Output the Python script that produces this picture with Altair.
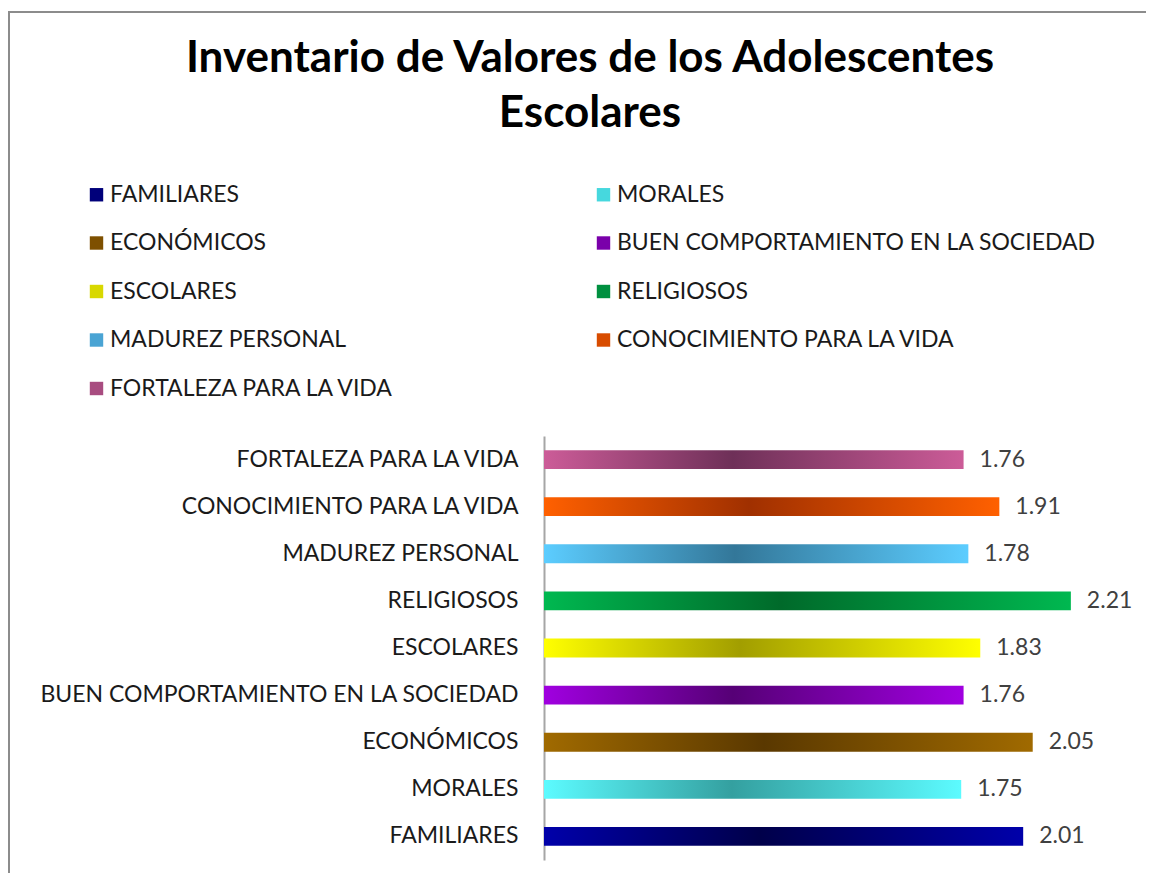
import altair as alt
import pandas as pd

categories = [
    "FAMILIARES",
    "MORALES",
    "ECONÓMICOS",
    "BUEN COMPORTAMIENTO  EN LA SOCIEDAD",
    "ESCOLARES",
    "RELIGIOSOS",
    "MADUREZ PERSONAL",
    "CONOCIMIENTO PARA LA VIDA",
    "FORTALEZA PARA LA VIDA",
]
values = [2.01, 1.75, 2.05, 1.76, 1.83, 2.21, 1.78, 1.91, 1.76]

edge_colors = ["#0000aa", "#5cfbff", "#a06a00", "#a000e0", "#ffff00",
               "#00b850", "#5ccdff", "#ff6000", "#cc5c98"]
center_colors = ["#00004a", "#34a0a0", "#5a3800", "#560076", "#a29e00",
                 "#006a2a", "#337799", "#a03000", "#6e3058"]
legend_colors = ["#00007a", "#46d8de", "#7e5000", "#7a00aa", "#d8d800",
                 "#009040", "#4aa4d4", "#d84c00", "#a84c80"]

FONT = "Lato"
FS = 23

df = pd.DataFrame({"cat": categories, "value": values})

y_enc = alt.Y(
    "cat:N",
    sort=list(reversed(categories)),
    scale=alt.Scale(paddingInner=0.6, paddingOuter=0.3),
    axis=alt.Axis(
        title=None, ticks=False, domain=True, domainColor="#a6a6a6",
        domainWidth=2, labelFontSize=FS, labelFont=FONT, labelColor="#1a1a1a",
        labelPadding=26, labelLimit=700, grid=False,
    ),
)
x_enc = alt.X("value:Q", scale=alt.Scale(domain=[0, 2.5]), axis=None)

base = alt.Chart(df)

layers = []
for c, e, m in zip(categories, edge_colors, center_colors):
    grad = alt.Gradient(
        gradient="linear",
        stops=[
            alt.GradientStop(color=e, offset=0),
            alt.GradientStop(color=m, offset=0.45),
            alt.GradientStop(color=e, offset=1),
        ],
        x1=0, x2=1, y1=0, y2=0,
    )
    layers.append(
        base.transform_filter(alt.datum.cat == c)
        .mark_bar(color=grad)
        .encode(x=x_enc, y=y_enc)
    )

labels = base.mark_text(
    align="left", baseline="middle", dx=16, fontSize=FS, font=FONT, color="#404040"
).encode(x=x_enc, y=y_enc, text=alt.Text("value:Q", format=".2f"))

legend_layer = base.mark_square(opacity=0, size=1).encode(
    x=x_enc, y=y_enc,
    color=alt.Color(
        "cat:N",
        scale=alt.Scale(domain=categories, range=legend_colors),
        legend=alt.Legend(
            title=None, orient="none", legendX=-459, legendY=-253,
            direction="horizontal", columns=2, columnPadding=196, rowPadding=24.5,
            symbolType="square", symbolSize=180, symbolStrokeWidth=0,
            symbolOpacity=1, labelFontSize=FS, labelFont=FONT,
            labelColor="#1a1a1a", labelOffset=2, labelLimit=700,
        ),
    ),
)

frame_top = base.mark_rule(color="#8c8c8c", strokeWidth=2).encode(
    x=alt.value(-536), x2=alt.value(604), y=alt.value(-424)
)
frame_left = base.mark_rule(color="#8c8c8c", strokeWidth=2).encode(
    x=alt.value(-535), y=alt.value(-424), y2=alt.value(440)
)

chart = alt.layer(*layers, labels, legend_layer, frame_top, frame_left).properties(
    width=596,
    height=424,
    autosize="none",
    padding={"left": 536, "top": 428, "right": 6, "bottom": 13},
    title=alt.Title(
        ["Inventario de Valores de los Adolescentes", "Escolares"],
        fontSize=44, font=FONT, fontWeight="bold", color="#000000",
        anchor="middle", frame="group", dx=-252, offset=-125, lineHeight=55,
    ),
).configure_view(stroke=None)

chart.save("out.html", embed_options={"renderer": "svg", "actions": False})
